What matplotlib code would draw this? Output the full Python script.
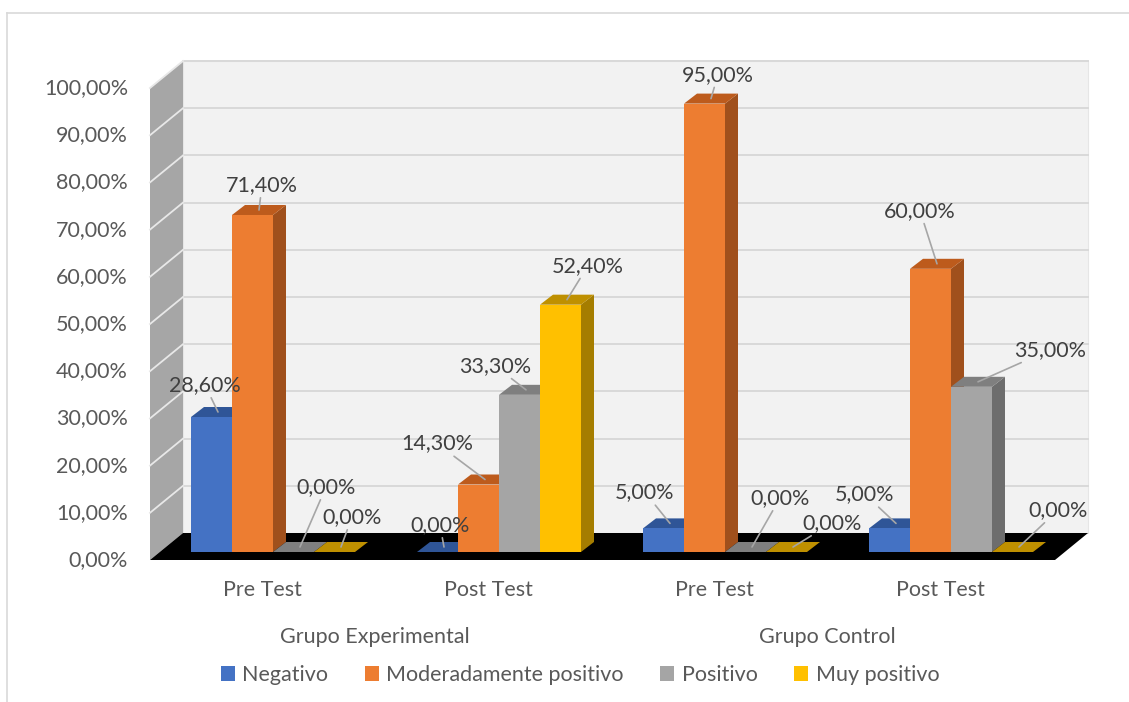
import matplotlib
matplotlib.use('Agg')
import matplotlib.pyplot as plt
from matplotlib.patches import Polygon, Rectangle
from matplotlib.lines import Line2D
import numpy as np

# data
categories = ['Pre Test', 'Post Test', 'Pre Test', 'Post Test']
groups = ['Grupo Experimental', 'Grupo Control']
series = ['Negativo', 'Moderadamente positivo', 'Positivo', 'Muy positivo']
negativo = [28.6, 0.0, 5.0, 5.0]
moderado = [71.4, 14.3, 95.0, 60.0]
positivo = [0.0, 33.3, 0.0, 35.0]
muy_positivo = [0.0, 52.4, 0.0, 0.0]
yticks = np.arange(0, 101, 10)

values = [negativo, moderado, positivo, muy_positivo]

# label offsets in pixels (label centre relative to bar top)
label_off = [
    [(-13, 27), (-4, 22), (-25, 31), (-31, 29)],
    [(3, 25), (-48, 36), (7, 24), (-17, 53)],
    [(26, 60), (-31, 24), (28, 49), (72, 32)],
    [(11, 30), (21, 34), (39, 24), (39, 37)],
]

front = ['#4472c4', '#ed7d31', '#a5a5a5', '#ffc000']
top = ['#2f5597', '#bd5b1c', '#7f7f7f', '#bf9000']
side = ['#2e4f8f', '#a0501c', '#6d6d6d', '#a57d00']
txt = '#595959'
lbl = '#404040'
fs = 15.5
plt.rcParams['font.family'] = ['Lato', 'DejaVu Sans']

W, H = 1129, 702
fig = plt.figure(figsize=(W / 100, H / 100), dpi=100)
ax = fig.add_axes([140 / W, (H - 575) / H, 955 / W, 525 / H])
PX = 1 / 226      # x units per pixel
PY = 1 / 4.72     # percent per pixel
ax.set_xlim(-133 * PX, 822 * PX)
ax.set_ylim(-23 * PY, 502 * PY)
ax.axis('off')

bar_w = 41 * PX
bdx, bdy = 13 * PX, 10 * PY
wdx, wdy = 33 * PX, 27 * PY
fy = -8 * PY
lx = -123 * PX
rx = 782 * PX

# back wall
ax.add_patch(Rectangle((lx + wdx, fy + wdy), rx - lx, 100, facecolor='#f2f2f2',
                       edgecolor='#e6e6e6', lw=0.8, zorder=0))
for v in yticks[1:]:
    ax.plot([lx + wdx, rx + wdx], [fy + wdy + v] * 2, color='#d9d9d9', lw=1.4, zorder=0.5)

# left wall
ax.add_patch(Polygon([(lx, fy), (lx, fy + 100), (lx + wdx, fy + wdy + 100), (lx + wdx, fy + wdy)],
                     closed=True, facecolor='#a6a6a6', edgecolor='none', zorder=0.6))
for v in yticks[1:]:
    ax.plot([lx, lx + wdx], [fy + v, fy + wdy + v], color='#e8e8e8', lw=1.3, zorder=0.7)
for v in yticks:
    ax.text(lx - 22 * PX, fy + v, f'{v:.2f}%'.replace('.', ','), ha='right', va='center',
            fontsize=fs, color=txt)

# floor
ax.add_patch(Polygon([(lx, fy), (rx, fy), (rx + wdx, fy + wdy), (lx + wdx, fy + wdy)],
                     closed=True, facecolor='black', edgecolor='none', zorder=1))

xs = np.arange(len(categories))
for j, vals in enumerate(values):
    x0s = xs - 2 * bar_w + j * bar_w
    for x0, v in zip(x0s, vals):
        x1 = x0 + bar_w
        ax.add_patch(Polygon([(x1, 0), (x1, v), (x1 + bdx, v + bdy), (x1 + bdx, bdy)],
                             closed=True, facecolor=side[j], edgecolor='none', zorder=2 + 2 * j))
        ax.add_patch(Polygon([(x0, v), (x1, v), (x1 + bdx, v + bdy), (x0 + bdx, v + bdy)],
                             closed=True, facecolor=top[j], edgecolor='none', zorder=2 + 2 * j))
    ax.bar(x0s, vals, width=bar_w, align='edge', color=front[j], zorder=3 + 2 * j, lw=0)
    for i, (x0, v) in enumerate(zip(x0s, vals)):
        ax.annotate(f'{v:.2f}%'.replace('.', ','), xy=(x0 + bar_w / 2 + bdx / 2, v + bdy / 2),
                    xytext=label_off[j][i], textcoords='offset pixels', ha='center', va='center',
                    fontsize=fs, color=lbl, zorder=20,
                    arrowprops=dict(arrowstyle='-', color='#a6a6a6', lw=1.2, shrinkA=0, shrinkB=0))

# category labels
for i, c in enumerate(categories):
    ax.text(xs[i] - 11 * PX, -38 * PY, c, ha='center', va='center', fontsize=fs, color=txt)
for g, name in enumerate(groups):
    ax.text(xs[2 * g:2 * g + 2].mean() - 11 * PX, -85 * PY, name, ha='center', va='center',
            fontsize=fs, color=txt)

# legend
handles = [Rectangle((0, 0), 1, 1, facecolor=c, edgecolor='none') for c in front]
fig.legend(handles, series, loc='center', bbox_to_anchor=(580 / W, 1 - 675 / H), ncol=4,
           frameon=False, fontsize=fs, handlelength=0.65, handleheight=0.65, handletextpad=0.35,
           columnspacing=1.7, labelcolor=txt)

# chart area border
fig.add_artist(Line2D([7 / W, 7 / W], [0, 1 - 13 / H], color='#d9d9d9', lw=1.2))
fig.add_artist(Line2D([7 / W, 1], [1 - 13 / H, 1 - 13 / H], color='#d9d9d9', lw=1.2))

fig.savefig('out.png', dpi=100)
